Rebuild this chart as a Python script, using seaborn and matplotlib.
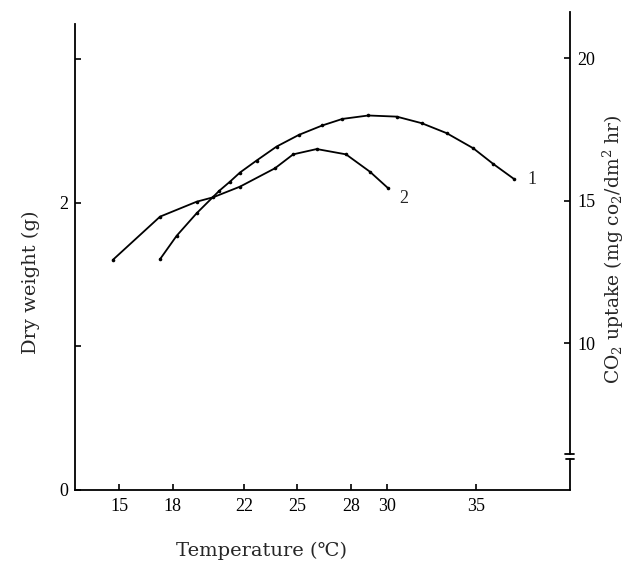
import matplotlib
matplotlib.use("Agg")
import matplotlib.pyplot as plt
import matplotlib.transforms as mtransforms
import pandas as pd
import seaborn as sns

# ---- data ----
temp_1 = [17.30, 18.23, 19.35, 20.62, 21.22, 21.78, 22.71, 23.83, 25.08, 26.39,
          27.52, 28.97, 30.56, 31.96, 33.36, 34.85, 35.97, 37.14]
co2_uptake_1 = [12.95, 13.77, 14.56, 15.35, 15.67, 15.99, 16.41, 16.90, 17.31, 17.64,
                17.87, 17.99, 17.95, 17.72, 17.37, 16.84, 16.29, 15.76]
temp_2 = [14.65, 17.30, 19.35, 20.28, 21.78, 23.74, 24.76, 26.08, 27.72, 29.06, 30.09]
dry_weight_2 = [1.603, 1.905, 2.009, 2.040, 2.114, 2.242, 2.339, 2.376, 2.339, 2.218, 2.102]
x_ticks = [15, 18, 22, 25, 28, 30, 35]
left_ticks = [0, 1, 2, 3]
left_labels = ["0", "", "2", ""]
right_ticks = [10, 15, 20]
right_labels = ["10", "15", "20"]
curve_labels = ["1", "2"]

sns.set_style("ticks")
plt.rcParams["font.family"] = ["Liberation Serif", "DejaVu Serif"]
plt.rcParams["mathtext.fontset"] = "dejavuserif"
plt.rcParams["mathtext.default"] = "regular"

W, H = 633, 561
fig = plt.figure(figsize=(W / 100, H / 100), dpi=100)
L, R, T, B = 75, 570, 12, 490
ax = fig.add_axes([L / W, 1 - B / H, (R - L) / W, (B - T) / H])
ax2 = ax.twinx()

df1 = pd.DataFrame({"temp": temp_1, "co2": co2_uptake_1})
df2 = pd.DataFrame({"temp": temp_2, "dw": dry_weight_2})

sns.lineplot(data=df2, x="temp", y="dw", ax=ax, color="black", lw=1.3,
             marker="o", markersize=2.6, markeredgewidth=0, sort=False)
sns.lineplot(data=df1, x="temp", y="co2", ax=ax2, color="black", lw=1.3,
             marker="o", markersize=2.6, markeredgewidth=0, sort=False)

ax.set_xlim(12.535, 40.27)
ax.set_ylim(0, 3.331)
ax2.set_ylim(4.853, 21.62)

ax.set_xticks(x_ticks)
ax.set_xticklabels([str(v) for v in x_ticks])
ax.set_yticks(left_ticks)
ax.set_yticklabels(left_labels)
ax2.set_yticks(right_ticks)
ax2.set_yticklabels(right_labels)

for a in (ax, ax2):
    a.set_xlabel("")
    a.set_ylabel("")
    a.spines["top"].set_visible(False)
    for s in a.spines.values():
        s.set_linewidth(1.3)
        s.set_color("black")

ax.spines["right"].set_visible(False)
ax2.spines["left"].set_visible(False)
ax2.spines["bottom"].set_visible(False)
ax.spines["left"].set_bounds(0, 3.247)
ax2.spines["right"].set_bounds(6.12, 21.62)

ax.tick_params(axis="x", direction="in", length=4, width=1.2, labelsize=13, pad=6, colors="black")
ax.tick_params(axis="y", direction="in", length=4, width=1.2, labelsize=13, pad=5, colors="black")
ax2.tick_params(axis="y", direction="in", length=4, width=1.2, labelsize=13, pad=5, colors="black")

# axis break on the right axis
tr = mtransforms.blended_transform_factory(ax2.transAxes, ax2.transData)
ax2.plot([1, 1], [4.853, 5.94], color="black", lw=1.3, transform=tr, clip_on=False)
ax2.plot([0.989, 1.009], [6.12, 6.12], color="black", lw=1.3, transform=tr, clip_on=False)
ax2.plot([0.991, 1.009], [5.94, 5.94], color="black", lw=1.3, transform=tr, clip_on=False)

# curve labels
ax2.text(temp_1[-1] + 0.75, co2_uptake_1[-1], curve_labels[0], fontsize=13,
         ha="left", va="center")
ax.text(temp_2[-1] + 0.6, dry_weight_2[-1] - 0.07, curve_labels[1], fontsize=13,
        ha="left", va="center")

fig.text(261 / W, 1 - 551 / H, "Temperature (℃)", fontsize=14, ha="center",
         va="center", family=["DejaVu Serif"])
fig.text(31 / W, 1 - 282 / H, "Dry weight (g)", fontsize=14, ha="center",
         va="center", rotation=90, family=["DejaVu Serif"])
fig.text(613 / W, 1 - 249 / H, r"CO$_2$ uptake (mg co$_2$/dm$^2$ hr)", fontsize=13.5,
         ha="center", va="center", rotation=90, family=["DejaVu Serif"])

fig.savefig("out.png", dpi=100, facecolor="white")
